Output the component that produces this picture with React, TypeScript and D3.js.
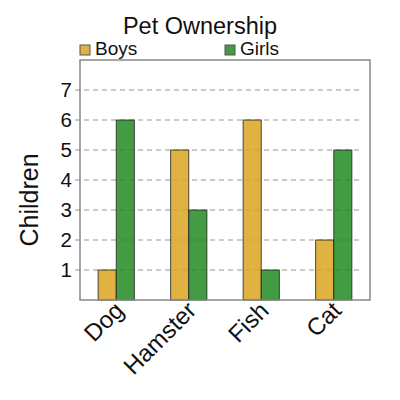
import React from 'react';
import * as d3 from 'd3';

const pets = ['Dog', 'Hamster', 'Fish', 'Cat'];
const boys = [1, 5, 6, 2];
const girls = [6, 3, 1, 5];
const seriesNames = ['Boys', 'Girls'];
const yTicks = [1, 2, 3, 4, 5, 6, 7];

const colors = ['#DAA520', '#228B22'];
const font = '"Liberation Sans", Arial, sans-serif';

const App: React.FC = () => {
  const width = 400;
  const height = 400;
  const margin = { left: 80, right: 30, top: 60, bottom: 100 };
  const innerW = width - margin.left - margin.right;
  const innerH = height - margin.top - margin.bottom;

  const x = d3.scaleBand<string>().domain(pets).range([0, innerW]).padding(0);
  const inner = d3.scaleBand<string>()
    .domain(seriesNames)
    .range([x.bandwidth() * 0.25, x.bandwidth() * 0.75]);
  const y = d3.scaleLinear().domain([0, 8]).range([innerH, 0]);

  const series = [boys, girls];

  return (
    <svg width={width} height={height} style={{ position: 'absolute', left: 0, top: 0 }} fontFamily={font}>
      <rect width={width} height={height} fill="#fff" />
      <text x={200} y={33.5} textAnchor="middle" fontSize={23.5} fill="#111">Pet Ownership</text>

      {/* legend */}
      {seriesNames.map((name, i) => (
        <g key={name} transform={`translate(${i === 0 ? 80 : 225},45)`}>
          <rect width={10} height={10} fill={colors[i]} fillOpacity={0.85} stroke="#555" strokeWidth={1} />
          <text x={15} y={10} fontSize={19} fill="#111">{name}</text>
        </g>
      ))}

      <g transform={`translate(${margin.left},${margin.top})`}>
        {/* grid */}
        {yTicks.map(t => (
          <g key={t}>
            <line x1={-5} x2={innerW - 10} y1={y(t)} y2={y(t)} stroke="#bbb" strokeWidth={1.6} strokeDasharray="5,4" />
            <text x={-8} y={y(t)} dy="0.36em" textAnchor="end" fontSize={20.5} fill="#111">{t}</text>
          </g>
        ))}

        {/* bars */}
        {pets.map((p, pi) => (
          <g key={p} transform={`translate(${x(p)},0)`}>
            {series.map((vals, si) => (
              <rect
                key={si}
                x={inner(seriesNames[si])}
                y={y(vals[pi])}
                width={inner.bandwidth()}
                height={innerH - y(vals[pi])}
                fill={colors[si]}
                fillOpacity={0.85}
                stroke="#222"
                strokeOpacity={0.8}
                strokeWidth={1}
              />
            ))}
          </g>
        ))}

        <rect x={0} y={0} width={innerW} height={innerH} fill="none" stroke="#888" strokeWidth={1.5} />

        {/* x labels */}
        {pets.map(p => {
          const cx = (x(p) as number) + x.bandwidth() / 2 + 3;
          return (
            <text key={p} transform={`translate(${cx},${innerH + 6}) rotate(-45)`} textAnchor="end" dy="0.35em" fontSize={24} fill="#111">{p}</text>
          );
        })}
      </g>

      <text transform={`translate(38,200) rotate(-90)`} textAnchor="middle" fontSize={25} fill="#111">Children</text>
    </svg>
  );
};

export default App;
